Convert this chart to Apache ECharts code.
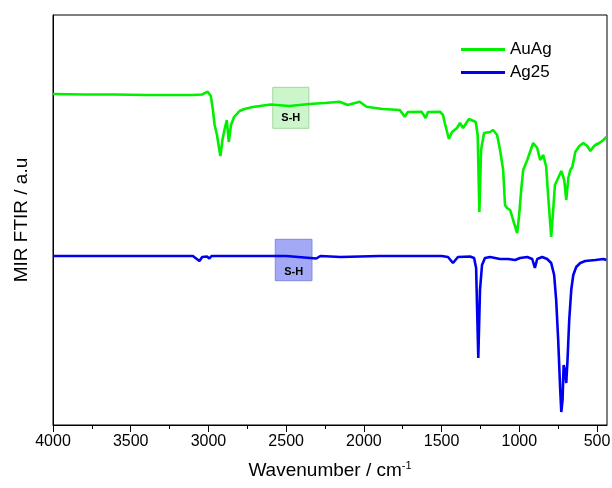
<!DOCTYPE html>
<html>
<head>
<meta charset="utf-8">
<script src="https://cdn.jsdelivr.net/npm/echarts@6/dist/echarts.min.js"></script>
<style>html,body{margin:0;padding:0;background:#fff}#c{width:612px;height:488px}</style>
</head>
<body>
<div id="c"></div>
<script>
// Wavenumber (cm^-1) and MIR FTIR intensity (a.u.)
const auAgWn = [4000,3800,3600,3400,3200,3100,3040,3005,2985,2972,2960,2952,2945,2935,2923,2910,2897,2882,2869,2855,2835,2800,2768,2714,2600,2480,2350,2250,2156,2104,2027,1983,1880,1769,1737,1717,1629,1603,1588,1511,1491,1478,1453,1433,1401,1382,1362,1324,1280,1268,1257,1246,1227,1188,1169,1143,1124,1104,1092,1079,1059,1040,1014,1001,988,975,949,911,885,866,846,827,814,795,782,771,756,730,711,698,685,672,659,640,614,588,563,543,524,511,485,459,440];
const auAgI  = [331,330.5,330.5,330,330,330,330.5,333.3,329,316,300,302,290,280,269,285,295,305,283,300,308,314,316,318,320.5,319,321,322,323.3,320,323.3,318.3,316,315,308.3,313,313.3,307,313,313.3,310,301,286,293,297,302,297,306,303,290,213,275,292,293,295,290,275,255,220,217,215,205,192,210,235,255,265,282,277,265,270,258,228,188,215,240,245,254,245,225,247,255,258,273,279,282,279,274,278,280,282,285,288];
const ag25Wn = [4000,3600,3300,3100,3058,3040,3010,2994,2980,2700,2500,2306,2280,2150,1900,1769,1500,1459,1427,1395,1317,1291,1278,1264,1253,1240,1221,1188,1124,1072,1027,995,949,917,900,885,853,821,795,776,763,750,737,730,722,715,707,698,690,679,666,653,634,608,576,511,459,440];
const ag25I  = [169,169,169,169,164,168,168.5,166.5,169,169,169,166.5,169,168,169,169,169,168,162,168,168.5,167,157,67,135,160,167,168,166,166,165,167,168,166,157,166,168,166,162,150,125,85,35,13,25,60,55,42,65,105,135,150,158,162,164,165,166,165];
const seriesNames = ['AuAg','Ag25'];
const majorTicks = [4000,3500,3000,2500,2000,1500,1000,500];
const minorTicks = [3750,3250,2750,2250,1750,1250,750];
const shBoxGreen = [[2586,296.7],[2354,337.7]];
const shBoxBlue  = [[2570,144.3],[2334,185.7]];
const shLabel = 'S-H';

const zip = (a,b) => a.map((v,i)=>[v,b[i]]);
const FONT = 'Liberation Sans, Arial, sans-serif';
const chart = echarts.init(document.getElementById('c'), null, {renderer:'canvas'});
const xBase = {type:'value', inverse:true, min:436, max:4000, gridIndex:0, position:'bottom', splitLine:{show:false}};
chart.setOption({
  animation:false,
  backgroundColor:'#fff',
  grid:{left:53, right:5, top:15, bottom:63, containLabel:false, outerBoundsMode:'none', show:true, borderColor:'#000', borderWidth:1, backgroundColor:'transparent'},
  legend:{
    orient:'vertical', left:456, top:36, icon:'rect', itemWidth:44, itemHeight:3, itemGap:6,
    textStyle:{fontFamily:FONT, fontSize:17, color:'#000'},
    data:seriesNames
  },
  xAxis:[
    Object.assign({}, xBase, {
      name:'{a|Wavenumber / cm}{s|-1}', nameLocation:'middle', nameGap:35,
      nameTextStyle:{rich:{a:{fontFamily:FONT,fontSize:19,color:'#000'}, s:{fontFamily:FONT,fontSize:11,color:'#000',verticalAlign:'top', padding:[0,0,10,0]}}},
      axisLine:{show:true, lineStyle:{color:'#000', width:1}},
      axisTick:{show:true, inside:false, length:7, customValues:majorTicks, lineStyle:{color:'#000', width:1}},
      axisLabel:{show:true, customValues:majorTicks, margin:9, fontFamily:FONT, fontSize:16, color:'#000', formatter:v=>String(v)}
    }),
    Object.assign({}, xBase, {
      axisLine:{show:false},
      axisTick:{show:true, inside:false, length:4, customValues:minorTicks, lineStyle:{color:'#000', width:1}},
      axisLabel:{show:false}
    })
  ],
  yAxis:{
    type:'value', min:0, max:410,
    name:'MIR FTIR / a.u', nameLocation:'middle', nameGap:22,
    nameTextStyle:{fontFamily:FONT, fontSize:19, color:'#000'},
    axisLine:{show:true, lineStyle:{color:'#000', width:1}},
    axisTick:{show:false}, axisLabel:{show:false}, splitLine:{show:false}
  },
  series:[
    {
      name:seriesNames[0], type:'line', xAxisIndex:0, data:zip(auAgWn, auAgI), symbol:'none',
      lineStyle:{color:'#00f000', width:2.6}, itemStyle:{color:'#00f000'}, z:3,
      markArea:{silent:true, data:[[
        {xAxis:shBoxGreen[0][0], yAxis:shBoxGreen[0][1], itemStyle:{color:'#ccf5cc', borderColor:'#9fd69f', borderWidth:1},
         label:{show:true, position:'insideBottom', distance:5, formatter:shLabel, fontFamily:FONT, fontWeight:'bold', fontSize:11, color:'#000'}},
        {xAxis:shBoxGreen[1][0], yAxis:shBoxGreen[1][1]}
      ]]}
    },
    {
      name:seriesNames[1], type:'line', xAxisIndex:0, data:zip(ag25Wn, ag25I), symbol:'none',
      lineStyle:{color:'#0000f0', width:2.6}, itemStyle:{color:'#0000f0'}, z:3,
      markArea:{silent:true, data:[[
        {xAxis:shBoxBlue[0][0], yAxis:shBoxBlue[0][1], itemStyle:{color:'#a3a9f5', borderColor:'#8088e0', borderWidth:1},
         label:{show:true, position:'insideBottom', distance:4, formatter:shLabel, fontFamily:FONT, fontWeight:'bold', fontSize:11, color:'#000'}},
        {xAxis:shBoxBlue[1][0], yAxis:shBoxBlue[1][1]}
      ]]}
    }
  ]
});
</script>
</body>
</html>
